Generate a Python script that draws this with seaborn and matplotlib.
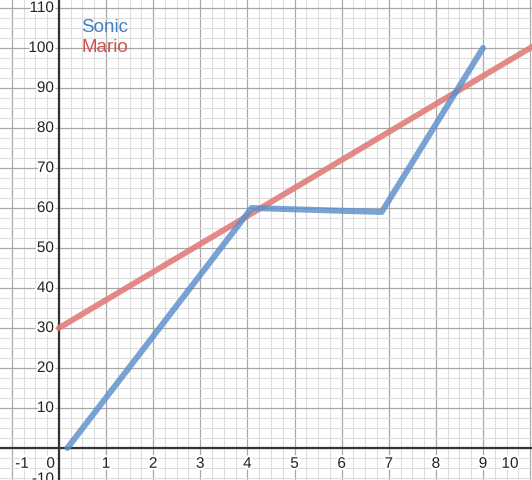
import matplotlib
matplotlib.use('Agg')
import matplotlib.pyplot as plt
import matplotlib.patheffects as pe
import numpy as np
import pandas as pd
import seaborn as sns

# data
sonic_x = [0.18, 4.09, 6.85, 9.0]
sonic_y = [0, 60, 59, 100]
mario_x = [0, 10.5]
mario_y = [30, 103.5]

x_ticks = [-1, 1, 2, 3, 4, 5, 6, 7, 8, 9, 10]
y_ticks = [-10, 10, 20, 30, 40, 50, 60, 70, 80, 90, 100, 110]

XMIN, XMAX = -1.25, 10.04
YMIN, YMAX = -8.0, 112.25

sns.set_style('white')
plt.rcParams['font.family'] = ['Liberation Sans', 'DejaVu Sans']

fig = plt.figure(figsize=(5.32, 4.81), dpi=100)
ax = fig.add_axes([0, 0, 1, 1])
ax.set_xlim(XMIN, XMAX)
ax.set_ylim(YMIN, YMAX)
for s in ax.spines.values():
    s.set_visible(False)
ax.set_xticks([])
ax.set_yticks([])

# grid: minor every quarter step, major every step
for xv in np.arange(-1, 11.01, 0.25):
    major = abs(xv - round(xv)) < 1e-9
    ax.axvline(xv, color='#a8a8a8' if major else '#dedede', lw=0.9 if major else 0.8, zorder=0)
for yv in np.arange(-10, 115.01, 2.5):
    major = abs(yv / 10 - round(yv / 10)) < 1e-9
    ax.axhline(yv, color='#a8a8a8' if major else '#dedede', lw=0.9 if major else 0.8, zorder=0)
ax.axhline(0, color='#333333', lw=1.6, zorder=1)
ax.axvline(0, color='#333333', lw=1.6, zorder=1)

# series
sonic = pd.DataFrame({'x': sonic_x, 'y': sonic_y})
mario = pd.DataFrame({'x': mario_x, 'y': mario_y})
sns.lineplot(data=mario, x='x', y='y', sort=False, estimator=None, ax=ax,
             color='#e07a76', lw=4.2, alpha=0.88, zorder=3)
sns.lineplot(data=sonic, x='x', y='y', sort=False, estimator=None, ax=ax,
             color='#5b8fcb', lw=4.3, alpha=0.82, zorder=4)
ax.set_xlabel('')
ax.set_ylabel('')

# axis labels, kept inside the view like a graphing calculator does
halo = [pe.withStroke(linewidth=3, foreground='white')]
px = (XMAX - XMIN) / 532
py = (YMAX - YMIN) / 481
for t in x_ticks:
    xc = min(max(t, XMIN + 22 * px), XMAX - 22 * px)
    ax.text(xc, -2.2, str(t), ha='center', va='top', fontsize=11,
            color='#222222', path_effects=halo, zorder=5)
ax.text(-4 * px, -2.2, '0', ha='right', va='top', fontsize=11,
        color='#222222', path_effects=halo, zorder=5)
for t in y_ticks:
    yc = max(t, YMIN + 1 * py)
    ax.text(-5 * px, yc, str(t), ha='right', va='center', fontsize=11,
            color='#222222', path_effects=halo, zorder=5)

# legend text
ax.text(0.48, 105.4, 'Sonic', color='#3f7fc4', fontsize=13.5, va='center', ha='left', zorder=5)
ax.text(0.48, 100.4, 'Mario', color='#d2504c', fontsize=13.5, va='center', ha='left', zorder=5)

fig.savefig('out.png', dpi=100)
